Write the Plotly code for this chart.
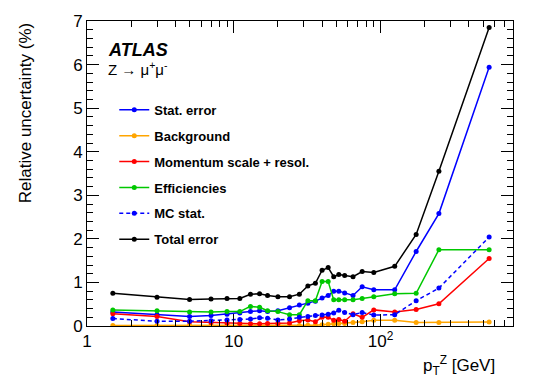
import plotly.graph_objects as go

# bin centres in GeV
pt = [1.5, 3, 5, 7, 9, 11, 13, 15, 17, 20, 24, 28, 32, 36, 40, 44,
      48, 52, 57, 65, 75, 90, 125, 175, 250, 550]

stat = [0.32, 0.26, 0.22, 0.24, 0.27, 0.30, 0.33, 0.35, 0.33, 0.35, 0.42, 0.48, 0.52,
        0.57, 0.64, 0.70, 0.80, 0.80, 0.76, 0.70, 0.90, 0.83, 0.83, 1.71, 2.58, 5.94]
background = [0.01, 0.01, 0.01, 0.01, 0.01, 0.01, 0.01, 0.01, 0.01, 0.01, 0.01, 0.01, 0.02,
              0.02, 0.03, 0.04, 0.05, 0.06, 0.06, 0.08, 0.10, 0.13, 0.13, 0.08, 0.08, 0.09]
momentum = [0.28, 0.22, 0.10, 0.08, 0.07, 0.06, 0.05, 0.05, 0.06, 0.06, 0.07, 0.12, 0.14,
            0.10, 0.20, 0.20, 0.13, 0.15, 0.11, 0.28, 0.20, 0.37, 0.32, 0.38, 0.51, 1.55]
efficiency = [0.37, 0.35, 0.32, 0.32, 0.33, 0.33, 0.45, 0.43, 0.35, 0.33, 0.26, 0.26, 0.58,
              0.58, 1.02, 1.02, 0.60, 0.60, 0.60, 0.60, 0.63, 0.67, 0.74, 0.75, 1.75, 1.75]
mc_stat = [0.17, 0.11, 0.11, 0.12, 0.14, 0.15, 0.16, 0.19, 0.18, 0.14, 0.16, 0.20, 0.22,
           0.24, 0.25, 0.27, 0.30, 0.36, 0.31, 0.26, 0.31, 0.25, 0.26, 0.58, 0.87, 2.04]
total = [0.75, 0.66, 0.61, 0.62, 0.63, 0.63, 0.73, 0.74, 0.70, 0.67, 0.67, 0.73, 0.92,
         0.98, 1.28, 1.34, 1.13, 1.18, 1.16, 1.13, 1.25, 1.23, 1.37, 2.10, 3.55, 6.85]

series = [
    ('Stat. error', stat, '#0000ff', 'solid'),
    ('Background', background, '#ffa500', 'solid'),
    ('Momentum scale + resol.', momentum, '#ff0000', 'solid'),
    ('Efficiencies', efficiency, '#00c800', 'solid'),
    ('MC stat.', mc_stat, '#0000ff', '4px,3px'),
    ('Total error', total, '#000000', 'solid'),
]

FONT = 'Liberation Sans, Arial, sans-serif'

fig = go.Figure()
for name, vals, color, dash in series:
    fig.add_trace(go.Scatter(
        x=pt, y=vals, name=name, legendgroup=name, mode='lines+markers',
        line=dict(color=color, width=1.5, dash=dash),
        marker=dict(color=color, size=5),
    ))

axis_common = dict(
    showline=True, linecolor='black', linewidth=1, mirror='ticks',
    ticks='inside', ticklen=12, tickcolor='black', showgrid=False, zeroline=False,
    tickfont=dict(family=FONT, size=17, color='black'),
)

fig.update_xaxes(
    type='log', range=[0, 2.903], tickvals=[1, 10, 100],
    ticktext=['1', '10', '10<sup>2</sup>'],
    minor=dict(ticks='inside', ticklen=6, tickcolor='black',
               tickvals=[m * d for d in (1, 10, 100) for m in range(2, 10)]),
    **axis_common,
)
fig.update_yaxes(
    range=[0, 7], dtick=1,
    minor=dict(ticks='inside', ticklen=6, tickcolor='black', dtick=0.2),
    **axis_common,
)

fig.add_annotation(text='Relative uncertainty (%)', textangle=-90,
                   xref='paper', yref='paper', x=-0.145, y=1.0,
                   xanchor='center', yanchor='top', showarrow=False,
                   font=dict(family=FONT, size=17, color='black'))
fig.add_annotation(text='p<sub>T</sub><sup>Z</sup> [GeV]',
                   xref='paper', yref='paper', x=0.963, y=-0.13,
                   xanchor='right', yanchor='middle', showarrow=False,
                   font=dict(family=FONT, size=17, color='black'))
fig.add_annotation(text='<b><i>ATLAS</i></b>',
                   xref='paper', yref='paper', x=0.045, y=0.905,
                   xanchor='left', yanchor='middle', showarrow=False,
                   font=dict(family=FONT, size=18, color='black'))
fig.add_annotation(text='Z \u2192 \u03bc<sup>+</sup>\u03bc<sup>-</sup>',
                   xref='paper', yref='paper', x=0.045, y=0.843,
                   xanchor='left', yanchor='middle', showarrow=False,
                   font=dict(family=FONT, size=15, color='black'))

fig.update_layout(
    width=540, height=388,
    paper_bgcolor='white', plot_bgcolor='white',
    margin=dict(l=87, r=27, t=19, b=62),
    font=dict(family=FONT, color='black'),
    legend=dict(x=0.064, y=0.758, xanchor='left', yanchor='top',
                bgcolor='rgba(0,0,0,0)', tracegroupgap=6,
                font=dict(family=FONT, size=13, color='black', weight='bold')),
)

fig.write_html('out.html', config={'displayModeBar': False},
               post_script="document.body.style.margin='0';")
